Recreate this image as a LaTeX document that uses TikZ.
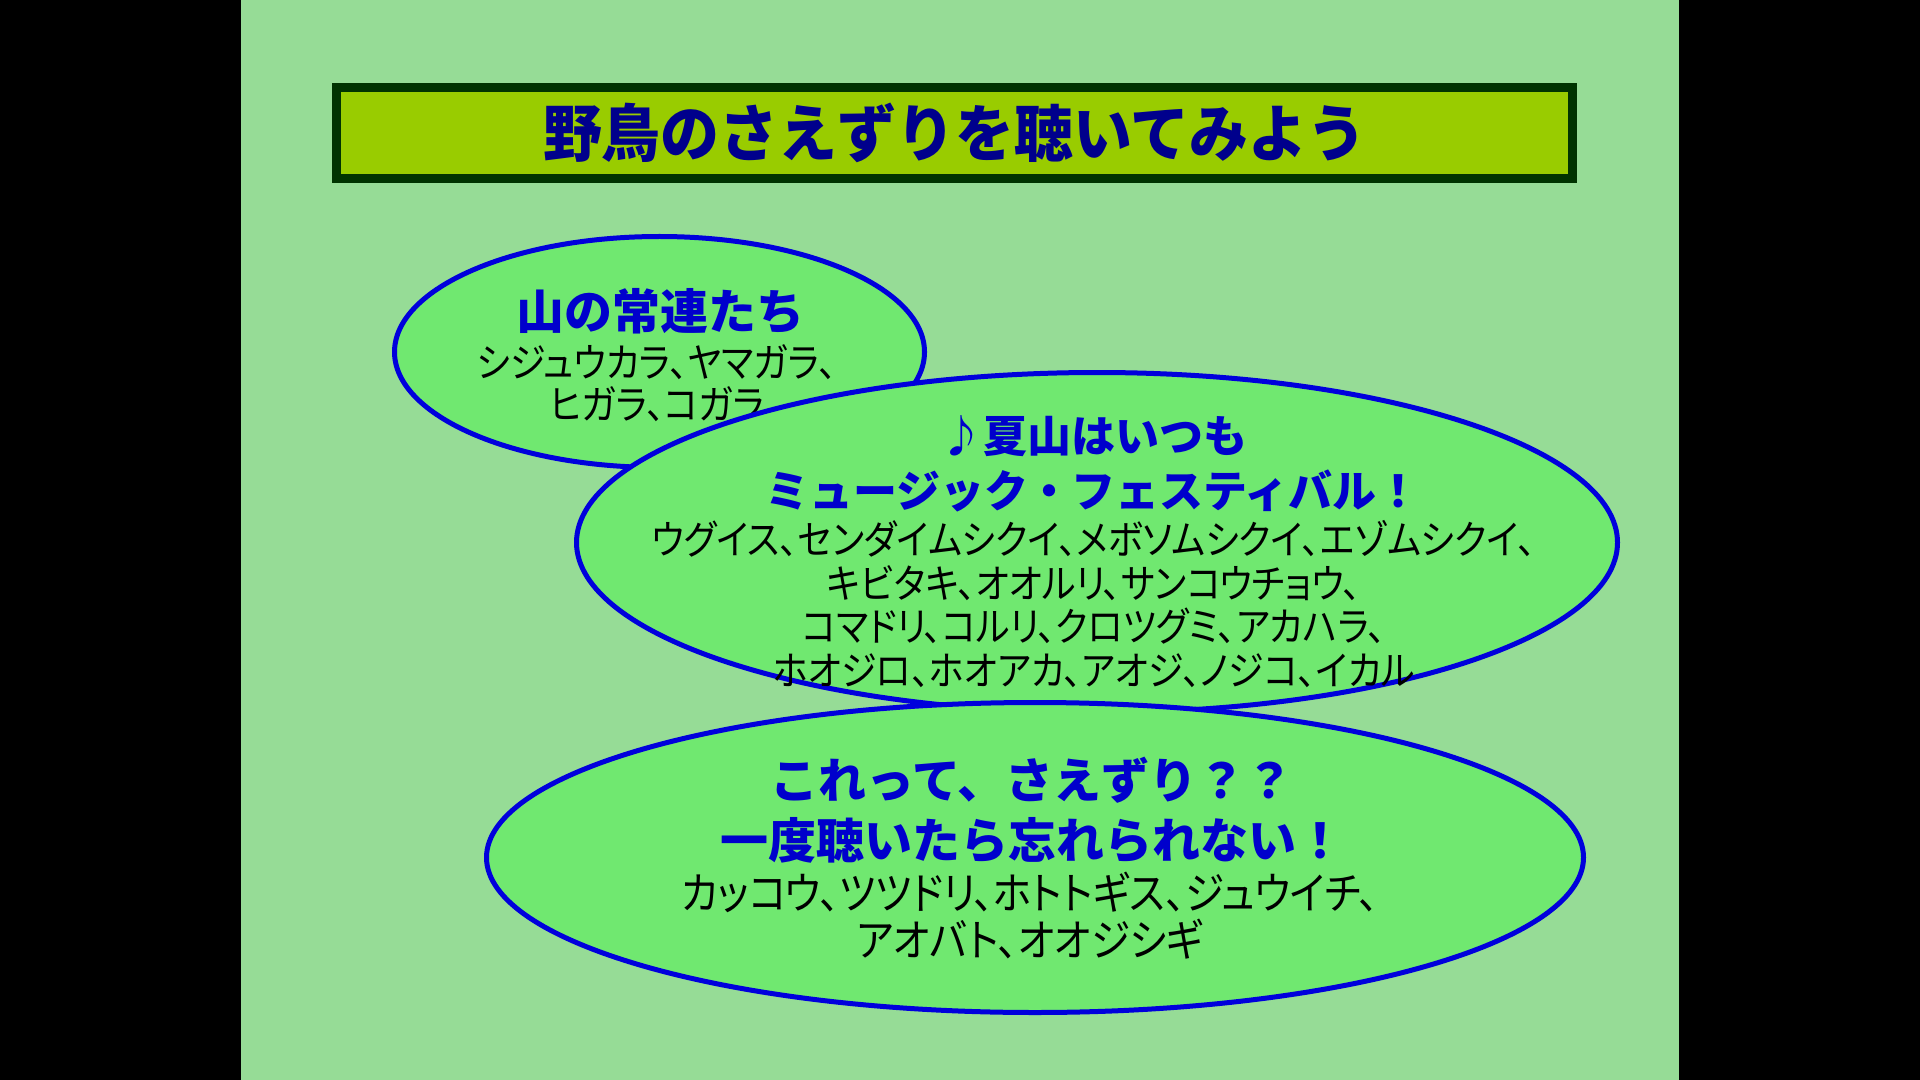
\documentclass[tikz,border=0pt]{standalone}
\usepackage{fontspec}
\usetikzlibrary{shapes.geometric}
\setmainfont{Noto Sans CJK JP}
\newfontfamily\bannerfont{Noto Sans CJK JP}[FakeStretch=0.95]
\newfontfamily\listfont{Noto Sans CJK JP}[RawFeature=+palt, FakeStretch=0.9]

\definecolor{slidegreen}{RGB}{150,220,150}
\definecolor{bubblegreen}{RGB}{112,232,112}
\definecolor{bubbleblue}{RGB}{0,0,220}
\definecolor{bannerlime}{RGB}{153,204,0}
\definecolor{bannerdark}{RGB}{0,51,0}
\definecolor{titlenavy}{RGB}{0,0,140}
\definecolor{headblue}{RGB}{0,0,204}

\begin{document}
\begin{tikzpicture}[x=0.5pt, y=-0.5pt,
	bubble/.style={ellipse, draw=bubbleblue, line width=2.5pt, fill=bubblegreen, inner sep=0pt},
	headline/.style={text=headblue, align=center,
		font=\bfseries\fontsize{24pt}{30pt}\selectfont},
	headsmall/.style={text=headblue, align=center,
		font=\bfseries\fontsize{22pt}{27.5pt}\selectfont},
	birdlist/.style={text=black, align=center,
		font=\listfont\fontsize{20pt}{#1}\selectfont},
	birdlist/.default=21pt,
	birdlarge/.style={text=black, align=center,
		font=\listfont\fontsize{22pt}{23.5pt}\selectfont}]

	% backdrop and slide
	\fill[black] (0,0) rectangle (1920,1080);
	\fill[slidegreen] (241,0) rectangle (1679,1080);
	\useasboundingbox (0,0) rectangle (1920,1080);

	% title bar
	\node
		[draw=bannerdark, line width=4.5pt, fill=bannerlime, inner sep=0pt,
		 minimum width=618pt, minimum height=45.5pt, text=titlenavy,
		 font=\bannerfont\bfseries\fontsize{31pt}{36pt}\selectfont]
		(banner) at (954.5,133) {野鳥のさえずりを聴いてみよう};

	% regulars of the mountain
	\node
		[bubble, minimum width=265pt, minimum height=115.5pt]
		(regulars) at (659.5,352) {};
	\node [headline] (regulars-head) at (660,311) {山の常連たち};
	\node [birdlist] (regulars-list) at (657,383)
		{シジュウカラ、ヤマガラ、\\ヒガラ、コガラ};

	% summer festival
	\node
		[bubble, minimum width=520.5pt, minimum height=170pt]
		(summer) at (1097,542.5) {};
	\node [headsmall] (summer-head) at (1093,464)
		{♪夏山はいつも\\ミュージック・フェスティバル！};
	\node [birdlist=21.8pt] (summer-list) at (1094,604)
		{ウグイス、センダイムシクイ、メボソムシクイ、エゾムシクイ、\\
		 キビタキ、オオルリ、サンコウチョウ、\\
		 コマドリ、コルリ、クロツグミ、アカハラ、\\
		 ホオジロ、ホオアカ、アオジ、ノジコ、イカル};

	% unforgettable calls
	\node
		[bubble, minimum width=548.5pt, minimum height=155pt]
		(catchy) at (1035,857.5) {};
	\node [headline] (catchy-head) at (1032,810)
		{これって、さえずり？？\\一度聴いたら忘れられない！};
	\node [birdlarge] (catchy-list) at (1030,916)
		{カッコウ、ツツドリ、ホトトギス、ジュウイチ、\\アオバト、オオジシギ};
\end{tikzpicture}
\end{document}
